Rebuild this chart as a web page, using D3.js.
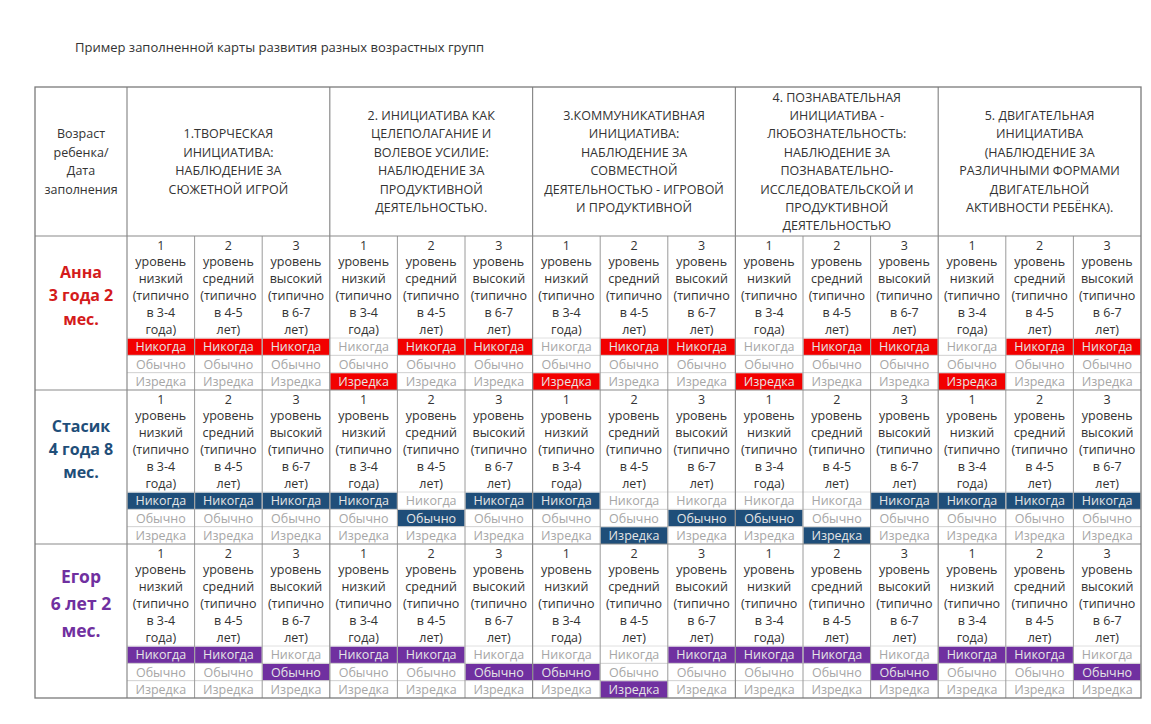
<!DOCTYPE html>
<html><head><meta charset="utf-8">
<script src="https://cdn.jsdelivr.net/npm/d3@7"></script>
<style>
html,body{margin:0;padding:0;background:#fff;}
svg{display:block;font-family:"Open Sans",sans-serif;}
</style></head>
<body>
<svg id="chart" width="1151" height="724"></svg>
<script>
// ---------- DATA ----------
const title = "Пример заполненной карты развития разных возрастных групп";
const cornerHeader = ["Возраст", "ребенка/", "Дата", "заполнения"];
const groupTitles = [
  ["1.ТВОРЧЕСКАЯ", "ИНИЦИАТИВА:", "НАБЛЮДЕНИЕ ЗА", "СЮЖЕТНОЙ ИГРОЙ"],
  ["2. ИНИЦИАТИВА КАК", "ЦЕЛЕПОЛАГАНИЕ И", "ВОЛЕВОЕ УСИЛИЕ:", "НАБЛЮДЕНИЕ ЗА", "ПРОДУКТИВНОЙ", "ДЕЯТЕЛЬНОСТЬЮ."],
  ["3.КОММУНИКАТИВНАЯ", "ИНИЦИАТИВА:", "НАБЛЮДЕНИЕ ЗА", "СОВМЕСТНОЙ", "ДЕЯТЕЛЬНОСТЬЮ - ИГРОВОЙ", "И ПРОДУКТИВНОЙ"],
  ["4. ПОЗНАВАТЕЛЬНАЯ", "ИНИЦИАТИВА -", "ЛЮБОЗНАТЕЛЬНОСТЬ:", "НАБЛЮДЕНИЕ ЗА", "ПОЗНАВАТЕЛЬНО-", "ИССЛЕДОВАТЕЛЬСКОЙ И", "ПРОДУКТИВНОЙ", "ДЕЯТЕЛЬНОСТЬЮ"],
  ["5. ДВИГАТЕЛЬНАЯ", "ИНИЦИАТИВА", "(НАБЛЮДЕНИЕ ЗА", "РАЗЛИЧНЫМИ ФОРМАМИ", "ДВИГАТЕЛЬНОЙ", "АКТИВНОСТИ РЕБЁНКА)."]
];
const levelLabels = [
  ["1", "уровень", "низкий", "(типично", "в 3-4", "года)"],
  ["2", "уровень", "средний", "(типично", "в 4-5", "лет)"],
  ["3", "уровень", "высокий", "(типично", "в 6-7", "лет)"]
];
const statuses = ["Никогда", "Обычно", "Изредка"];
const children = ["Анна", "Стасик", "Егор"];
const childLabels = [
  ["Анна", "3 года 2", "мес."],
  ["Стасик", "4 года 8", "мес."],
  ["Егор", "6 лет 2", "мес."]
];
// selected status index per column (group x level): 0 Никогда, 1 Обычно, 2 Изредка
const annaMarks   = [0,0,0, 2,0,0, 2,0,0, 2,0,0, 2,0,0];
const stasikMarks = [0,0,0, 0,1,0, 0,2,1, 1,2,0, 0,0,0];
const egorMarks   = [0,0,1, 0,0,1, 1,2,0, 0,0,1, 0,0,1];
const marks = [annaMarks, stasikMarks, egorMarks];

// ---------- STYLE ----------
const fillColors = ["#f20000", "#1f4e79", "#7030a0"];
const nameColors = ["#d41b1b", "#1f4e79", "#7030a0"];
const nameSizes = [16, 16, 17.5];
const nameSpacing = [23.5, 23, 27];

// ---------- LAYOUT ----------
const L = 35, R = 1141, T = 87, HB = 236, B = 698, C0 = 127;
const svg = d3.select("#chart");

svg.append("text").attr("x", 75).attr("y", 47).attr("dominant-baseline", "central")
  .attr("font-size", 13).attr("fill", "#333").text(title);

const groupIdx = d3.range(groupTitles.length);
const colIdx = d3.range(groupTitles.length * levelLabels.length);
const xGroup = d3.scaleBand().domain(groupIdx).range([C0, R]);
const xCol = d3.scaleBand().domain(colIdx).range([C0, R]);
const yChild = d3.scaleBand().domain(d3.range(children.length)).range([HB, B]);
const descH = 102;
const yStatus = d3.scaleBand().domain(d3.range(statuses.length)).range([descH, yChild.bandwidth()]);
const lineY = d3.scaleLinear().domain([0, 1]).range([9, 9 + 16.8]);

// header corner
const hMid = (T + HB) / 2, hStep = 18.4;
svg.append("g").selectAll("text").data(cornerHeader).join("text")
  .attr("x", (L + C0) / 2)
  .attr("y", (d, i) => hMid + (i - (cornerHeader.length - 1) / 2) * hStep)
  .attr("text-anchor", "middle").attr("dominant-baseline", "central")
  .attr("font-size", 12.5).attr("fill", "#333").text(d => d);

// group headers
const gh = svg.append("g").selectAll("g").data(groupTitles).join("g");
gh.selectAll("text").data(d => d.map(t => ({t, n: d.length}))).join("text")
  .attr("x", function () { const gi = groupTitles.indexOf(d3.select(this.parentNode).datum()); return xGroup(gi) + xGroup.bandwidth() / 2; })
  .attr("y", (d, i) => hMid + (i - (d.n - 1) / 2) * hStep)
  .attr("text-anchor", "middle").attr("dominant-baseline", "central")
  .attr("font-size", 12.5).attr("fill", "#333").text(d => d.t);

// child blocks
const blocks = svg.append("g").selectAll("g").data(children).join("g")
  .attr("transform", (d, i) => `translate(0,${yChild(i)})`);

blocks.each(function (name, ci) {
  const g = d3.select(this);
  // name label
  g.selectAll("text.name").data(childLabels[ci]).join("text").attr("class", "name")
    .attr("x", (L + C0) / 2)
    .attr("y", (d, i) => 59 + (i - 1) * nameSpacing[ci])
    .attr("text-anchor", "middle").attr("dominant-baseline", "central")
    .attr("font-size", nameSizes[ci]).attr("font-weight", "bold")
    .attr("fill", nameColors[ci]).text(d => d);

  // columns
  colIdx.forEach(c => {
    const x0 = xCol(c), w = xCol.bandwidth(), cx = x0 + w / 2;
    const lv = levelLabels[c % levelLabels.length];
    g.append("g").selectAll("text").data(lv).join("text")
      .attr("x", cx).attr("y", (d, i) => lineY(i))
      .attr("text-anchor", "middle").attr("dominant-baseline", "central")
      .attr("font-size", 12.5).attr("fill", "#333").text(d => d);

    const sel = marks[ci][c];
    statuses.forEach((s, si) => {
      const on = si === sel;
      if (on) {
        g.append("rect").attr("x", x0 + 0.5).attr("y", yStatus(si) + 0.5)
          .attr("width", w - 1).attr("height", yStatus.bandwidth() - 0.5)
          .attr("fill", fillColors[ci]);
      }
      g.append("text").attr("x", cx).attr("y", yStatus(si) + yStatus.bandwidth() / 2)
        .attr("text-anchor", "middle").attr("dominant-baseline", "central")
        .attr("font-size", 12.5).attr("fill", on ? "#e6e6e6" : "#a6a6a6").text(s);
    });
  });

  // light horizontal lines between status rows
  statuses.forEach((s, si) => {
    if (si === 0) return;
    g.append("line").attr("x1", C0).attr("x2", R)
      .attr("y1", yStatus(si)).attr("y2", yStatus(si))
      .attr("stroke", "#d0d0d0").attr("stroke-width", 1);
  });
  g.append("line").attr("x1", C0).attr("x2", R)
    .attr("y1", descH).attr("y2", descH)
    .attr("stroke", "#e0e0e0").attr("stroke-width", 1);
});

// grid lines
const grid = svg.append("g").attr("fill", "none");
// sub-column separators (body only)
colIdx.filter(c => c % 3 !== 0).forEach(c => {
  grid.append("line").attr("x1", xCol(c)).attr("x2", xCol(c)).attr("y1", HB).attr("y2", B)
    .attr("stroke", "#9a9a9a").attr("stroke-width", 1);
});
// group separators (full height)
groupIdx.forEach(gi => {
  grid.append("line").attr("x1", xGroup(gi)).attr("x2", xGroup(gi)).attr("y1", T).attr("y2", B)
    .attr("stroke", "#8a8a8a").attr("stroke-width", 1.2);
});
// block separators
d3.range(children.length).forEach(ci => {
  grid.append("line").attr("x1", L).attr("x2", R).attr("y1", yChild(ci)).attr("y2", yChild(ci))
    .attr("stroke", "#8a8a8a").attr("stroke-width", 1.2);
});
grid.append("rect").attr("x", L).attr("y", T).attr("width", R - L).attr("height", B - T)
  .attr("stroke", "#7a7a7a").attr("stroke-width", 1.3);
</script>
</body></html>
